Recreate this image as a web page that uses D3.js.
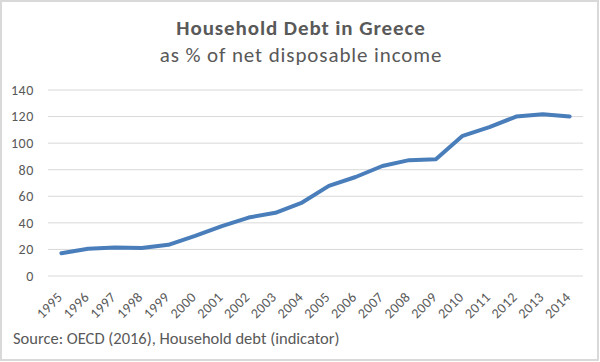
<!DOCTYPE html>
<html>
<meta charset="utf-8">
<style>
body { margin: 0; background: #fff; }
text { font-family: Carlito, "Open Sans", sans-serif; fill: #595959; }
.grid line { stroke: #d9d9d9; stroke-width: 1px; }
</style>
<body>
<svg width="600" height="362"></svg>
<script src="https://d3js.org/d3.v7.min.js"></script>
<script>

var years = ["1995","1996","1997","1998","1999","2000","2001","2002","2003","2004",
             "2005","2006","2007","2008","2009","2010","2011","2012","2013","2014"];
var debt = [17.1, 20.5, 21.5, 21, 23.5, 30.2, 37.6, 44, 47.6, 55.3,
            67.8, 74.5, 82.8, 87.2, 87.8, 105.5, 112, 120, 121.8, 120];
var yTicks = [0, 20, 40, 60, 80, 100, 120, 140];

var svg = d3.select("svg"),
    width = +svg.attr("width"),
    height = +svg.attr("height");

// frame
svg.append("rect")
    .attr("x", 1).attr("y", 1)
    .attr("width", width - 3).attr("height", height - 3)
    .attr("fill", "#fff")
    .attr("stroke", "#d9d9d9")
    .attr("stroke-width", 2);

var x = d3.scaleBand().domain(years).range([48, 583]);
var y = d3.scaleLinear().domain([0, 140]).range([276, 90]);

svg.append("text")
    .attr("x", 301).attr("y", 35)
    .attr("text-anchor", "middle")
    .style("font-size", "21px")
    .style("letter-spacing", "0.9px")
    .style("font-weight", "bold")
    .text("Household Debt in Greece");

svg.append("text")
    .attr("x", 301).attr("y", 62)
    .attr("text-anchor", "middle")
    .style("font-size", "21px")
    .style("letter-spacing", "0.9px")
    .text("as % of net disposable income");

var grid = svg.append("g").attr("class", "grid");
grid.selectAll("line")
    .data(yTicks)
    .enter().append("line")
      .attr("x1", 48).attr("x2", 583)
      .attr("y1", function(d) { return y(d); })
      .attr("y2", function(d) { return y(d); });

svg.append("g").selectAll("text")
    .data(yTicks)
    .enter().append("text")
      .attr("x", 34)
      .attr("y", function(d) { return y(d); })
      .attr("dy", "0.35em")
      .attr("text-anchor", "end")
      .style("font-size", "14px")
      .style("letter-spacing", "0.6px")
      .text(function(d) { return d; });

svg.append("g").selectAll("text")
    .data(years)
    .enter().append("text")
      .attr("transform", function(d) {
        return "translate(" + (x(d) + x.bandwidth() / 2 + 2) + ",298) rotate(-45)";
      })
      .attr("text-anchor", "end")
      .style("font-size", "14px")
      .style("letter-spacing", "0.4px")
      .text(function(d) { return d; });

var line = d3.line()
    .x(function(d, i) { return x(years[i]) + x.bandwidth() / 2; })
    .y(function(d) { return y(d); });

svg.append("path")
    .datum(debt)
    .attr("fill", "none")
    .attr("stroke", "#4a7ebb")
    .attr("stroke-width", 4)
    .attr("stroke-linejoin", "round")
    .attr("stroke-linecap", "round")
    .attr("d", line);

svg.append("text")
    .attr("x", 13).attr("y", 344)
    .style("font-size", "16.5px")
    .text("Source: OECD (2016), Household debt (indicator)");

</script>
</body>
</html>
